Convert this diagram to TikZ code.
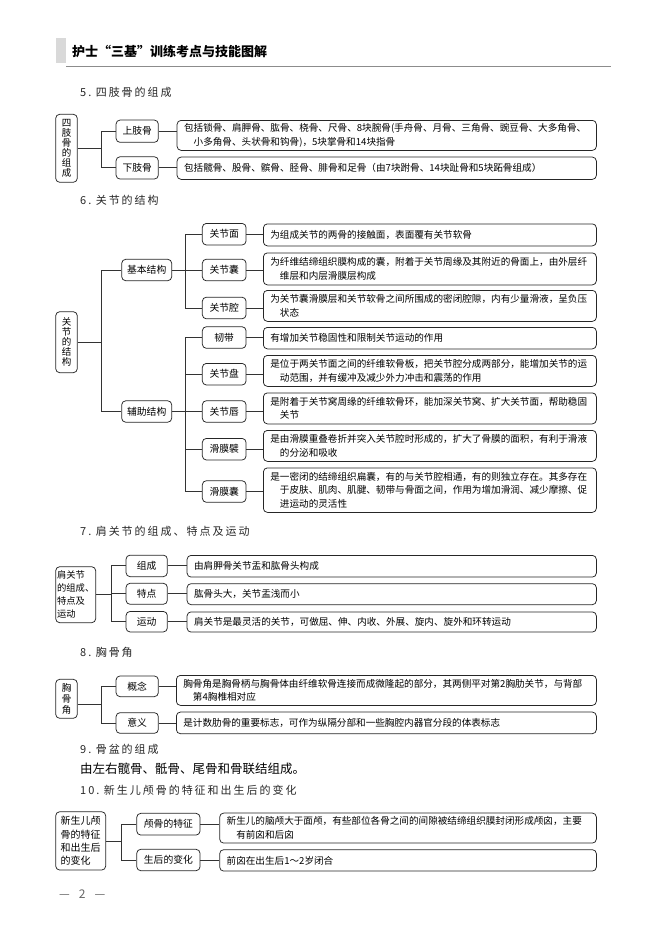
\documentclass[tikz,border=0pt]{standalone}
\usepackage{fontspec}
\setmainfont{Noto Sans CJK SC}
\newfontfamily\titlefont[LetterSpace=18]{Noto Sans CJK SC}
\newcommand{\DescBox}[5]{%
  \pgfmathsetmacro{\dW}{596-#2-14}%
  \pgfmathsetmacro{\dH}{#4-#3}%
  \node[desc, text width=\dW pt, minimum height=\dH pt] (#1) at (#2,#3) {#5};}
\begin{document}
\begin{tikzpicture}[x=1pt,y=-1pt,
  box/.style={draw=black!85, line width=0.75pt, rounded corners=4pt, inner sep=0pt},
  lbl/.style={box, font=\fontsize{9.8}{11}\selectfont, align=center},
  rootv/.style={box, font=\fontsize{9.5}{10}\selectfont, align=center},
  rootm/.style={box, font=\fontsize{9.6}{13.3}\selectfont, align=left},
  desc/.style={box, font=\fontsize{9.6}{13.6}\selectfont, align=left, inner xsep=7pt, inner ysep=0pt, anchor=north west},
  conn/.style={draw=black!80, line width=0.85pt},
  ttl/.style={anchor=west, inner sep=0pt, font=\titlefont\fontsize{11}{13}\selectfont, text=black!85},
]
\useasboundingbox (0,0) rectangle (660,932);
% header
\fill[black!15] (56,38) rectangle (66,63);
\node[anchor=west, inner sep=0pt, font=\bfseries\fontsize{13}{15}\selectfont] (hdr) at (72,51) {护士“三基”训练考点与技能图解};
\draw[black!45, line width=0.9pt] (66,66.5) -- (611,66.5);

% ---------- 5
\node[ttl] (t5) at (80,92) {5.\ 四肢骨的组成};
\node[rootv, minimum width=21.6pt, minimum height=68pt] (r5) at (66.5,148.3) {四\\肢\\骨\\的\\组\\成};
\node[lbl, minimum width=42.3pt, minimum height=22.3pt] (a5) at (137.2,131.2) {上肢骨};
\node[lbl, minimum width=42.3pt, minimum height=22.3pt] (b5) at (137.2,167.9) {下肢骨};
\DescBox{da5}{176.7}{120}{150}{包括锁骨、肩胛骨、肱骨、桡骨、尺骨、8块腕骨(手舟骨、月骨、三角骨、豌豆骨、大多角骨、\\\hspace*{1em}小多角骨、头状骨和钩骨)，5块掌骨和14块指骨}
\DescBox{db5}{176.7}{156.7}{179}{包括髋骨、股骨、髌骨、胫骨、腓骨和足骨（由7块跗骨、14块趾骨和5块跖骨组成）}
\coordinate (j5) at (101.7,148.3);
\draw[conn] (r5.east |- j5) -- (j5);
\draw[conn] (a5.west) -- (j5 |- a5) -- (j5 |- b5) -- (b5.west);
\draw[conn] (a5.east) -- (a5.east -| da5.west);
\draw[conn] (b5.east) -- (b5.east -| db5.west);

% ---------- 6
\node[ttl] (t6) at (80,200) {6.\ 关节的结构};
\node[rootv, minimum width=21.6pt, minimum height=61pt] (r6) at (66.5,342.2) {关\\节\\的\\结\\构};
\node[lbl, minimum width=50pt, minimum height=21.4pt] (ba6) at (146.7,270) {基本结构};
\node[lbl, minimum width=50pt, minimum height=21.4pt] (fu6) at (146.7,411.5) {辅助结构};
\node[lbl, minimum width=43.7pt, minimum height=21.6pt] (mian) at (224.2,234.2) {关节面};
\node[lbl, minimum width=43.7pt, minimum height=21.6pt] (nang) at (224.2,270) {关节囊};
\node[lbl, minimum width=43.7pt, minimum height=21.6pt] (qiang) at (224.2,308) {关节腔};
\node[lbl, minimum width=43.7pt, minimum height=21.6pt] (ren) at (224.2,337.5) {韧带};
\node[lbl, minimum width=43.7pt, minimum height=21.6pt] (pan) at (224.2,374.2) {关节盘};
\node[lbl, minimum width=43.7pt, minimum height=21.6pt] (chun) at (224.2,411.5) {关节唇};
\node[lbl, minimum width=43.7pt, minimum height=21.6pt] (bi) at (224.2,449.2) {滑膜襞};
\node[lbl, minimum width=43.7pt, minimum height=21.6pt] (hn) at (224.2,491.5) {滑膜囊};
\DescBox{dmian}{263}{223.5}{245.5}{为组成关节的两骨的接触面，表面覆有关节软骨}
\DescBox{dnang}{263}{252.5}{284.5}{为纤维结缔组织膜构成的囊，附着于关节周缘及其附近的骨面上，由外层纤\\\hspace*{1em}维层和内层滑膜层构成}
\DescBox{dqiang}{263}{290}{321}{为关节囊滑膜层和关节软骨之间所围成的密闭腔隙，内有少量滑液，呈负压\\\hspace*{1em}状态}
\DescBox{dren}{263}{327}{348.5}{有增加关节稳固性和限制关节运动的作用}
\DescBox{dpan}{263}{355}{386}{是位于两关节面之间的纤维软骨板，把关节腔分成两部分，能增加关节的运\\\hspace*{1em}动范围，并有缓冲及减少外力冲击和震荡的作用}
\DescBox{dchun}{263}{392.5}{423.5}{是附着于关节窝周缘的纤维软骨环，能加深关节窝、扩大关节面，帮助稳固\\\hspace*{1em}关节}
\DescBox{dbi}{263}{430}{461}{是由滑膜重叠卷折并突入关节腔时形成的，扩大了骨膜的面积，有利于滑液\\\hspace*{1em}的分泌和吸收}
\DescBox{dhn}{263}{467.5}{512}{是一密闭的结缔组织扁囊，有的与关节腔相通，有的则独立存在。其多存在\\\hspace*{1em}于皮肤、肌肉、肌腱、韧带与骨面之间，作用为增加滑润、减少摩擦、促\\\hspace*{1em}进运动的灵活性}
\coordinate (j6) at (101.7,342.2);
\coordinate (k6a) at (185.7,270);
\coordinate (k6b) at (185.7,411.5);
\draw[conn] (r6.east |- j6) -- (j6);
\draw[conn] (ba6.west) -- (j6 |- ba6) -- (j6 |- fu6) -- (fu6.west);
\draw[conn] (ba6.east) -- (nang.west);
\draw[conn] (mian.west) -- (k6a |- mian) -- (k6a |- qiang) -- (qiang.west);
\draw[conn] (fu6.east) -- (chun.west);
\draw[conn] (ren.west) -- (k6b |- ren) -- (k6b |- hn) -- (hn.west);
\draw[conn] (k6b |- pan) -- (pan.west);
\draw[conn] (k6b |- bi) -- (bi.west);
\foreach \a/\b in {mian/dmian,nang/dnang,qiang/dqiang,ren/dren,pan/dpan,chun/dchun,bi/dbi,hn/dhn}
  \draw[conn] (\a.east) -- (\a.east -| \b.west);

% ---------- 7
\node[ttl] (t7) at (80,531) {7.\ 肩关节的组成、特点及运动};
\node[rootm, minimum width=40pt, minimum height=56pt, font=\fontsize{9.3}{13.1}\selectfont] (r7) at (75.7,594.7) {肩关节\\的组成、\\特点及\\运动};
\node[lbl, minimum width=41.3pt, minimum height=21.5pt] (zc) at (146.7,565.9) {组成};
\node[lbl, minimum width=41.3pt, minimum height=21pt] (td) at (146.7,593.8) {特点};
\node[lbl, minimum width=41.3pt, minimum height=20.5pt] (yd) at (146.7,621.7) {运动};
\DescBox{dzc}{186.7}{555}{576.7}{由肩胛骨关节盂和肱骨头构成}
\DescBox{dtd}{186.7}{583.3}{604.3}{肱骨头大，关节盂浅而小}
\DescBox{dyd}{186.7}{611.5}{631.7}{肩关节是最灵活的关节，可做屈、伸、内收、外展、旋内、旋外和环转运动}
\coordinate (j7) at (111.7,594);
\draw[conn] (r7.east |- j7) -- (j7);
\draw[conn] (zc.west) -- (j7 |- zc) -- (j7 |- yd) -- (yd.west);
\draw[conn] (j7 |- td) -- (td.west);
\foreach \a/\b in {zc/dzc,td/dtd,yd/dyd}
  \draw[conn] (\a.east) -- (\a.east -| \b.west);

% ---------- 8
\node[ttl] (t8) at (80,652) {8.\ 胸骨角};
\node[rootv, minimum width=21.6pt, minimum height=39pt, font=\fontsize{9.5}{11.2}\selectfont] (r8) at (66.5,698.8) {胸\\骨\\角};
\node[lbl, minimum width=42.3pt, minimum height=20.7pt] (gn) at (137.2,686.3) {概念};
\node[lbl, minimum width=42.3pt, minimum height=20.7pt] (yy) at (137.2,723) {意义};
\DescBox{dgn}{176}{675}{705}{胸骨角是胸骨柄与胸骨体由纤维软骨连接而成微隆起的部分，其两侧平对第2胸肋关节，与背部\\\hspace*{1em}第4胸椎相对应}
\DescBox{dyy}{176}{711.7}{733.3}{是计数肋骨的重要标志，可作为纵隔分部和一些胸腔内器官分段的体表标志}
\coordinate (j8) at (101,704);
\draw[conn] (r8.east |- j8) -- (j8);
\draw[conn] (gn.west) -- (j8 |- gn) -- (j8 |- yy) -- (yy.west);
\foreach \a/\b in {gn/dgn,yy/dyy}
  \draw[conn] (\a.east) -- (\a.east -| \b.west);

% ---------- 9
\node[ttl] (t9) at (80,749) {9.\ 骨盆的组成};
\node[anchor=west, inner sep=0pt, font=\fontsize{12.5}{14}\selectfont] (b9) at (80,769) {由左右髋骨、骶骨、尾骨和骨联结组成。};

% ---------- 10
\node[ttl] (t10) at (80,790) {10.\ 新生儿颅骨的特征和出生后的变化};
\node[rootm, minimum width=50pt, minimum height=58.3pt, font=\fontsize{10}{13.3}\selectfont] (r10) at (80.7,840.9) {新生儿颅\\骨的特征\\和出生后\\的变化};
\node[lbl, minimum width=63.3pt, minimum height=21.7pt] (tz) at (168.4,824.2) {颅骨的特征};
\node[lbl, minimum width=63.3pt, minimum height=21.4pt] (bh) at (168.4,860) {生后的变化};
\DescBox{dtz}{219.3}{812.7}{842.7}{新生儿的脑颅大于面颅，有些部位各骨之间的间隙被结缔组织膜封闭形成颅囟，主要\\\hspace*{1em}有前囟和后囟}
\DescBox{dbh}{219.3}{849.3}{870.7}{前囟在出生后1～2岁闭合}
\coordinate (j10) at (121,841);
\draw[conn] (r10.east |- j10) -- (j10);
\draw[conn] (tz.west) -- (j10 |- tz) -- (j10 |- bh) -- (bh.west);
\foreach \a/\b in {tz/dtz,bh/dbh}
  \draw[conn] (\a.east) -- (\a.east -| \b.west);

% footer
\node[anchor=west, inner sep=0pt, text=black!60, font=\fontsize{12}{14}\selectfont] (ftr) at (59,894) {—\hspace{9pt}2\hspace{9pt}—};
\end{tikzpicture}
\end{document}
